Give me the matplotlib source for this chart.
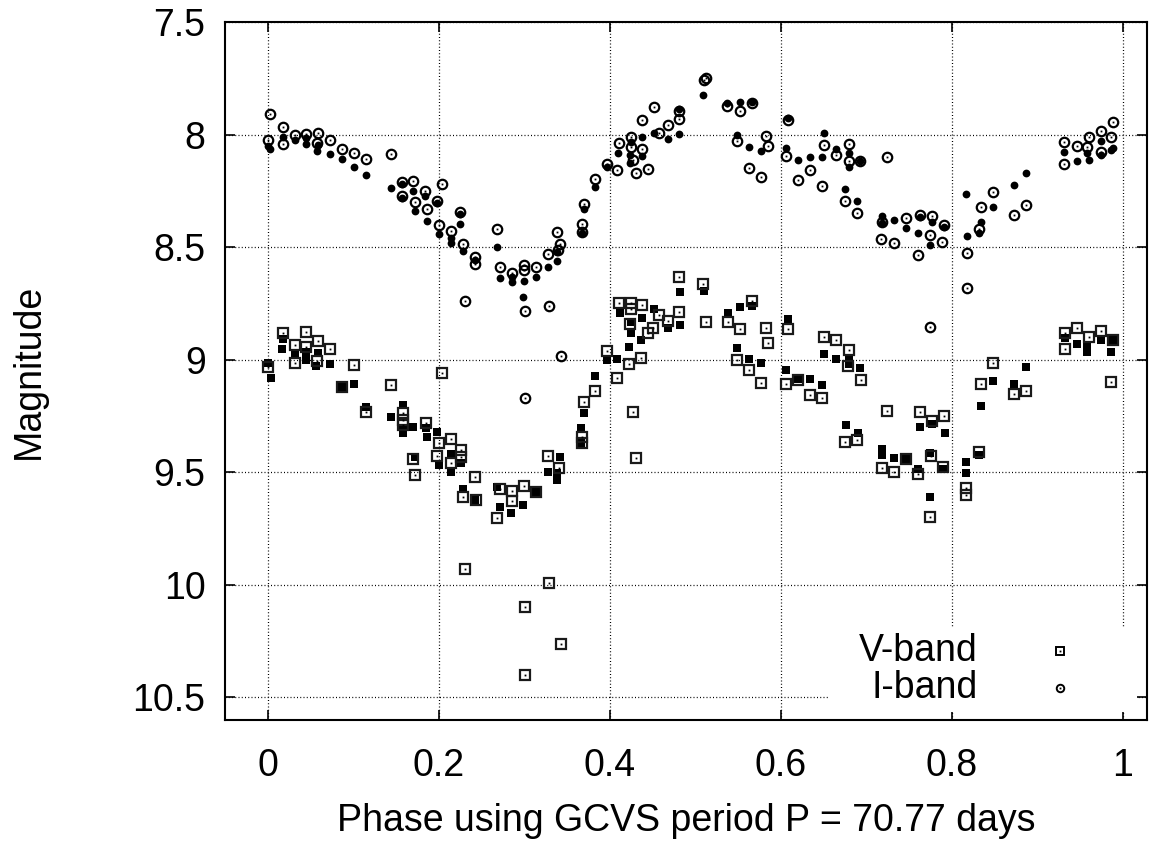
import matplotlib
matplotlib.use("Agg")
import matplotlib.pyplot as plt
from matplotlib.patches import Rectangle

plt.rcParams['font.family'] = ['Liberation Sans', 'DejaVu Sans']

# ---------------- data (phase, magnitude) ----------------
i_open_phase = [0.002, 0.017, 0.000, 0.017, 0.031, 0.045, 0.059, 0.057, 0.073, 0.087, 0.101, 0.115,
                0.144, 0.157, 0.169, 0.157, 0.172, 0.184, 0.186, 0.198, 0.204, 0.200, 0.214, 0.225,
                0.228, 0.242, 0.242, 0.230, 0.268, 0.271, 0.285, 0.299, 0.299, 0.313, 0.327, 0.338,
                0.341, 0.339, 0.301, 0.329, 0.367, 0.367, 0.369, 0.383, 0.397, 0.408, 0.411, 0.425,
                0.424, 0.437, 0.427, 0.430, 0.444, 0.437, 0.451, 0.457, 0.468, 0.481, 0.481, 0.510,
                0.512, 0.537, 0.552, 0.566, 0.549, 0.582, 0.585, 0.563, 0.577, 0.608, 0.606, 0.620,
                0.634, 0.648, 0.650, 0.664, 0.679, 0.679, 0.692, 0.724, 0.675, 0.689, 0.718, 0.717,
                0.732, 0.746, 0.763, 0.777, 0.774, 0.760, 0.791, 0.788, 0.817, 0.817, 0.831, 0.834,
                0.848, 0.873, 0.887, 0.931, 0.931, 0.946, 0.958, 0.960, 0.974, 0.974, 0.986, 0.988,
                0.301, 0.343, 0.774]
i_open_mag = [7.910, 7.965, 8.024, 8.042, 8.002, 7.997, 7.992, 8.036, 8.024, 8.064, 8.083, 8.108,
              8.087, 8.209, 8.206, 8.271, 8.298, 8.249, 8.330, 8.295, 8.219, 8.401, 8.427, 8.342,
              8.486, 8.542, 8.575, 8.738, 8.421, 8.587, 8.616, 8.579, 8.601, 8.587, 8.532, 8.431,
              8.487, 8.512, 8.782, 8.761, 8.397, 8.431, 8.308, 8.198, 8.131, 8.159, 8.036, 8.009,
              8.054, 8.065, 8.113, 8.169, 8.151, 7.935, 7.876, 7.992, 7.959, 7.897, 7.932, 7.758,
              7.749, 7.872, 7.894, 7.858, 8.028, 8.005, 8.049, 8.150, 8.187, 7.935, 8.095, 8.203,
              8.158, 8.230, 8.046, 8.092, 8.043, 8.116, 8.116, 8.099, 8.295, 8.347, 8.389, 8.465,
              8.480, 8.370, 8.357, 8.360, 8.446, 8.536, 8.403, 8.479, 8.524, 8.680, 8.418, 8.323,
              8.256, 8.358, 8.311, 8.032, 8.131, 8.049, 8.055, 8.009, 7.983, 8.076, 8.009, 7.945,
              9.171, 8.983, 8.853]

i_fill_phase = [0.000, 0.002, 0.017, 0.031, 0.045, 0.045, 0.057, 0.058, 0.073, 0.087, 0.101, 0.115,
                0.144, 0.157, 0.169, 0.157, 0.172, 0.184, 0.186, 0.198, 0.200, 0.214, 0.214, 0.225,
                0.225, 0.228, 0.242, 0.268, 0.271, 0.285, 0.285, 0.299, 0.313, 0.298, 0.327, 0.338,
                0.338, 0.367, 0.369, 0.383, 0.397, 0.409, 0.423, 0.423, 0.437, 0.437, 0.424, 0.451,
                0.468, 0.481, 0.481, 0.509, 0.537, 0.552, 0.566, 0.549, 0.563, 0.577, 0.608, 0.606,
                0.620, 0.634, 0.648, 0.650, 0.664, 0.679, 0.679, 0.692, 0.675, 0.689, 0.718, 0.718,
                0.732, 0.746, 0.760, 0.763, 0.777, 0.774, 0.791, 0.816, 0.817, 0.831, 0.834, 0.848,
                0.873, 0.887, 0.931, 0.946, 0.958, 0.960, 0.974, 0.974, 0.986, 0.988]
i_fill_mag = [8.051, 8.065, 8.009, 8.024, 8.042, 8.015, 8.073, 8.046, 8.087, 8.110, 8.143, 8.179,
              8.238, 8.221, 8.250, 8.283, 8.338, 8.273, 8.382, 8.302, 8.441, 8.480, 8.460, 8.353,
              8.397, 8.517, 8.557, 8.500, 8.638, 8.653, 8.631, 8.649, 8.631, 8.720, 8.587, 8.560,
              8.520, 8.436, 8.332, 8.231, 8.145, 8.080, 8.091, 8.127, 8.095, 8.012, 8.032, 7.992,
              8.018, 7.999, 7.888, 7.826, 7.858, 7.857, 7.854, 8.003, 8.054, 8.074, 7.928, 8.058,
              8.111, 8.101, 8.098, 7.992, 8.063, 8.083, 8.145, 8.116, 8.240, 8.294, 8.360, 8.391,
              8.381, 8.415, 8.438, 8.365, 8.387, 8.490, 8.412, 8.265, 8.449, 8.436, 8.387, 8.320,
              8.225, 8.172, 8.076, 8.117, 8.080, 8.113, 8.027, 8.091, 8.068, 8.058]

v_open_phase = [0.017, 0.045, 0.031, 0.045, 0.059, 0.073, 0.000, 0.031, 0.057, 0.101, 0.087, 0.144,
                0.204, 0.115, 0.158, 0.158, 0.158, 0.185, 0.200, 0.214, 0.226, 0.226, 0.198, 0.169,
                0.214, 0.172, 0.242, 0.228, 0.243, 0.271, 0.285, 0.285, 0.299, 0.313, 0.327, 0.340,
                0.367, 0.367, 0.369, 0.383, 0.397, 0.408, 0.422, 0.436, 0.427, 0.430, 0.411, 0.425,
                0.425, 0.437, 0.423, 0.444, 0.450, 0.457, 0.468, 0.481, 0.481, 0.509, 0.512, 0.538,
                0.552, 0.566, 0.582, 0.585, 0.549, 0.563, 0.577, 0.608, 0.606, 0.620, 0.634, 0.648,
                0.650, 0.664, 0.679, 0.678, 0.693, 0.724, 0.675, 0.689, 0.763, 0.777, 0.775, 0.718,
                0.732, 0.760, 0.791, 0.789, 0.774, 0.816, 0.816, 0.831, 0.834, 0.848, 0.873, 0.887,
                0.932, 0.932, 0.946, 0.960, 0.974, 0.988, 0.986, 0.746, 0.268,
                0.230, 0.329, 0.301, 0.343, 0.301]
v_open_mag = [8.882, 8.875, 8.934, 8.944, 8.917, 8.952, 9.031, 9.016, 9.004, 9.024, 9.122, 9.111,
              9.060, 9.233, 9.238, 9.267, 9.290, 9.282, 9.368, 9.350, 9.401, 9.430, 9.426, 9.442,
              9.460, 9.513, 9.522, 9.608, 9.623, 9.575, 9.584, 9.628, 9.559, 9.586, 9.427, 9.482,
              9.341, 9.368, 9.187, 9.139, 8.960, 9.082, 9.019, 8.991, 9.232, 9.436, 8.749, 8.749,
              8.776, 8.755, 8.842, 8.880, 8.860, 8.802, 8.826, 8.789, 8.631, 8.663, 8.832, 8.834,
              8.863, 8.738, 8.860, 8.927, 9.001, 9.045, 9.103, 8.863, 9.106, 9.090, 9.158, 9.168,
              8.900, 8.913, 8.956, 9.028, 9.088, 9.226, 9.366, 9.357, 9.233, 9.272, 9.427, 9.482,
              9.497, 9.508, 9.248, 9.477, 9.697, 9.568, 9.600, 9.409, 9.109, 9.014, 9.152, 9.137,
              8.880, 8.952, 8.860, 8.900, 8.871, 8.912, 9.097, 9.441, 9.701,
              9.930, 9.993, 10.099, 10.262, 10.400]

v_fill_phase = [0.017, 0.016, 0.031, 0.045, 0.059, 0.044, 0.056, 0.073, 0.000, 0.003, 0.087, 0.101,
                0.115, 0.144, 0.158, 0.158, 0.158, 0.169, 0.185, 0.186, 0.198, 0.214, 0.226, 0.200,
                0.214, 0.172, 0.228, 0.242, 0.268, 0.271, 0.298, 0.313, 0.328, 0.338, 0.341, 0.338,
                0.366, 0.366, 0.369, 0.383, 0.397, 0.408, 0.422, 0.436, 0.425, 0.425, 0.412, 0.437,
                0.451, 0.468, 0.482, 0.482, 0.510, 0.538, 0.552, 0.566, 0.549, 0.563, 0.577, 0.608,
                0.606, 0.620, 0.634, 0.648, 0.650, 0.664, 0.679, 0.680, 0.692, 0.676, 0.690, 0.718,
                0.718, 0.732, 0.746, 0.760, 0.763, 0.776, 0.774, 0.774, 0.792, 0.789, 0.816, 0.816,
                0.832, 0.834, 0.848, 0.873, 0.887, 0.932, 0.946, 0.958, 0.958, 0.974, 0.988, 0.986,
                0.284]
v_fill_mag = [8.909, 8.951, 8.968, 8.964, 8.971, 9.001, 9.028, 9.017, 9.013, 9.082, 9.122, 9.107,
              9.208, 9.253, 9.201, 9.304, 9.326, 9.297, 9.304, 9.342, 9.321, 9.418, 9.460, 9.466,
              9.498, 9.430, 9.572, 9.623, 9.566, 9.652, 9.645, 9.586, 9.497, 9.534, 9.430, 9.504,
              9.304, 9.368, 9.235, 9.071, 9.001, 8.996, 8.942, 8.912, 8.882, 8.831, 8.794, 8.813,
              8.773, 8.860, 8.847, 8.698, 8.696, 8.794, 8.764, 8.761, 8.946, 8.996, 9.013, 8.819,
              9.044, 9.085, 9.087, 9.112, 8.973, 8.998, 9.001, 9.019, 9.035, 9.291, 9.324, 9.396,
              9.423, 9.435, 9.441, 9.485, 9.300, 9.287, 9.608, 9.415, 9.324, 9.486, 9.455, 9.501,
              9.423, 9.204, 9.093, 9.107, 9.031, 8.902, 8.930, 8.942, 8.964, 8.912, 8.912, 8.964,
              9.682]

x_ticks = [0, 0.2, 0.4, 0.6, 0.8, 1.0]
x_tick_labels = ["0", "0.2", "0.4", "0.6", "0.8", "1"]
y_ticks = [7.5, 8.0, 8.5, 9.0, 9.5, 10.0, 10.5]
y_tick_labels = ["7.5", "8", "8.5", "9", "9.5", "10", "10.5"]
series_labels = ["V-band", "I-band"]

# ---------------- figure ----------------
fig = plt.figure(figsize=(11.59, 8.52), dpi=100)
ax = fig.add_axes([225 / 1159, 1 - 720 / 852, 922 / 1159, 698 / 852])

FS = 27
ax.set_xlim(-0.0503, 1.028)
ax.set_ylim(10.6, 7.5)

ax.set_xticks(x_ticks)
ax.set_xticklabels(x_tick_labels, fontsize=FS)
ax.set_yticks(y_ticks)
ax.set_yticklabels(y_tick_labels, fontsize=FS)
ax.tick_params(direction='in', length=7, width=1.2, top=True, right=True, pad=14)
ax.tick_params(axis='x', pad=20)

for s in ax.spines.values():
    s.set_linewidth(1.5)

ax.grid(True, color='black', linestyle=(0, (0.8, 1.8)), linewidth=0.9)
ax.set_axisbelow(True)

# legend background box
ax.add_patch(Rectangle((0.656, 0.012), 0.333, 0.121, transform=ax.transAxes,
                       facecolor='white', edgecolor='none', zorder=1.5))

# data
ax.plot(i_fill_phase, i_fill_mag, linestyle='none', marker='o', markersize=5.6,
        color='black', markeredgewidth=0, zorder=3)
ax.plot(v_fill_phase, v_fill_mag, linestyle='none', marker='s', markersize=6.3,
        color='black', markeredgewidth=0, zorder=3)
ax.plot(i_open_phase, i_open_mag, linestyle='none', marker='o', markersize=6.8,
        markerfacecolor='none', markeredgecolor='black', markeredgewidth=1.6, zorder=4)
ax.plot(i_open_phase, i_open_mag, linestyle='none', marker='s', markersize=1.3,
        color='black', markeredgewidth=0, zorder=4)
ax.plot(v_open_phase, v_open_mag, linestyle='none', marker='s', markersize=7.0,
        markerfacecolor='none', markeredgecolor='#1a1a1a', markeredgewidth=1.6, zorder=4)
ax.plot(v_open_phase, v_open_mag, linestyle='none', marker='s', markersize=1.3,
        color='black', markeredgewidth=0, zorder=4)

ax.set_ylabel("Magnitude", fontsize=FS, labelpad=62)
ax.set_xlabel("Phase using GCVS period P = 70.77 days", fontsize=FS, labelpad=14)

# manual key (gnuplot-style, right-aligned text then symbol)
key_y = [0.0989, 0.0458]
for lab, ky, mk, ms in zip(series_labels, key_y, ['s', 'o'], [6.0, 5.4]):
    ax.text(0.8167, ky, lab, transform=ax.transAxes, ha='right', va='center',
            fontsize=FS, zorder=5)
    ax.plot([0.9056], [ky], transform=ax.transAxes, linestyle='none', marker=mk,
            markersize=ms, markerfacecolor='none', markeredgecolor='black',
            markeredgewidth=1.4, zorder=5, clip_on=False)
    ax.plot([0.9056], [ky], transform=ax.transAxes, linestyle='none', marker='s',
            markersize=1.3, color='black', markeredgewidth=0, zorder=5, clip_on=False)

fig.savefig("out.png", dpi=100)
